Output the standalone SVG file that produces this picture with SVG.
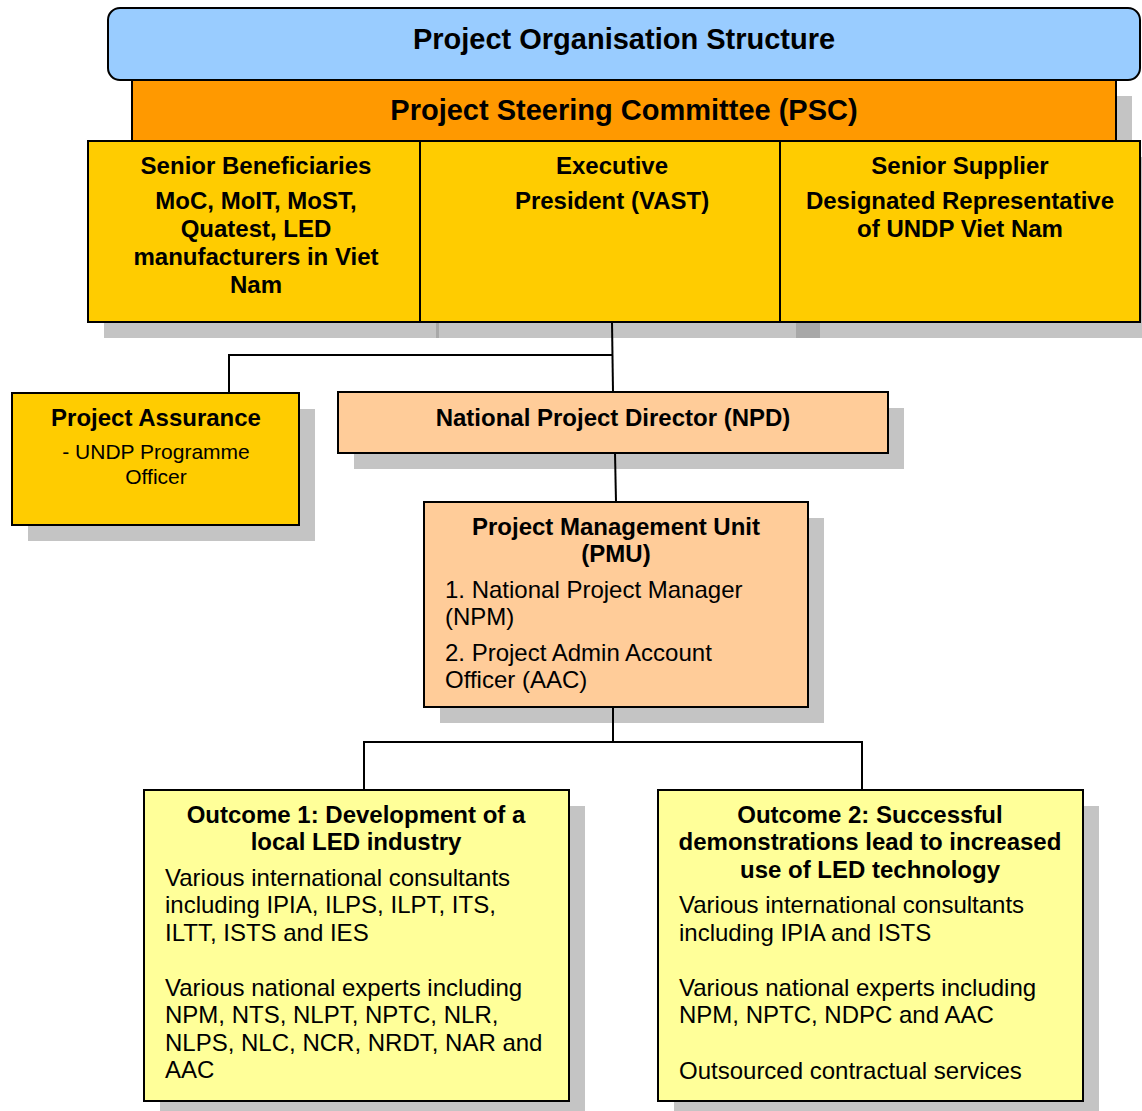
<svg xmlns="http://www.w3.org/2000/svg" width="1142" height="1111" viewBox="0 0 1142 1111">
<style>
.sh{fill:#C4C4C4}
.bx{stroke:#000;stroke-width:2}
.t{font-family:"Liberation Sans",Arial,sans-serif;fill:#000}
.b{font-weight:bold;font-size:24px}
.c{text-anchor:middle}
.r{font-size:24px}
.conn{stroke:#000;stroke-width:2;fill:none}
</style>
<rect width="1142" height="1111" fill="#fff"/>
<!-- shadows -->
<g id="shadows">
<rect class="sh" x="148" y="96" width="984" height="61"/>
<rect class="sh" x="104" y="157" width="1038" height="181"/>
<rect x="436" y="322" width="3" height="16" fill="#A8A8A8"/>
<rect x="796" y="322" width="24" height="16" fill="#A8A8A8"/>
<rect class="sh" x="28" y="409" width="287" height="132"/>
<rect class="sh" x="354" y="408" width="550" height="61"/>
<rect class="sh" x="440" y="518" width="384" height="205"/>
<rect class="sh" x="160" y="806" width="425" height="305"/>
<rect class="sh" x="674" y="806" width="425" height="305"/>
</g>
<g id="connectors">
<path class="conn" d="M612 322 L613 392"/>
<path class="conn" d="M612 355 H229 V393"/>
<path class="conn" d="M615 453 L616 502"/>
<path class="conn" d="M613 707 V742"/>
<path class="conn" d="M364 790 V742 H862 V790"/>
</g>
<g id="title">
<rect class="bx" x="108" y="8" width="1032" height="72" rx="12" fill="#99CCFF"/>
<text class="t c" x="624" y="49" font-weight="bold" font-size="29">Project Organisation Structure</text>
</g>
<g id="psc">
<rect class="bx" x="132" y="80" width="984" height="61" fill="#FF9900"/>
<text class="t c" x="624" y="120" font-weight="bold" font-size="29">Project Steering Committee (PSC)</text>
</g>
<g id="senior-beneficiaries">
<rect class="bx" x="88" y="141" width="332" height="181" fill="#FFCC00"/>
<text class="t b c" x="256" y="174">Senior Beneficiaries</text>
<text class="t b c" x="256" y="209">MoC, MoIT, MoST,</text>
<text class="t b c" x="256" y="237">Quatest, LED</text>
<text class="t b c" x="256" y="265">manufacturers in Viet</text>
<text class="t b c" x="256" y="293">Nam</text>
</g>
<g id="executive">
<rect class="bx" x="420" y="141" width="360" height="181" fill="#FFCC00"/>
<text class="t b c" x="612" y="174">Executive</text>
<text class="t b c" x="612" y="209">President (VAST)</text>
</g>
<g id="senior-supplier">
<rect class="bx" x="780" y="141" width="360" height="181" fill="#FFCC00"/>
<text class="t b c" x="960" y="174">Senior Supplier</text>
<text class="t b c" x="960" y="209">Designated Representative</text>
<text class="t b c" x="960" y="237">of UNDP Viet Nam</text>
</g>
<g id="project-assurance">
<rect class="bx" x="12" y="393" width="287" height="132" fill="#FFCC00"/>
<text class="t b c" x="156" y="426">Project Assurance</text>
<text class="t c" x="156" y="459" font-size="21">- UNDP Programme</text>
<text class="t c" x="156" y="484" font-size="21">Officer</text>
</g>
<g id="npd">
<rect class="bx" x="338" y="392" width="550" height="61" fill="#FFCC99"/>
<text class="t b c" x="613" y="426">National Project Director (NPD)</text>
</g>
<g id="pmu">
<rect class="bx" x="424" y="502" width="384" height="205" fill="#FFCC99"/>
<text class="t b c" x="616" y="535">Project Management Unit</text>
<text class="t b c" x="616" y="562">(PMU)</text>
<text class="t r" x="445" y="598">1. National Project Manager</text>
<text class="t r" x="445" y="625">(NPM)</text>
<text class="t r" x="445" y="661">2. Project Admin Account</text>
<text class="t r" x="445" y="688">Officer (AAC)</text>
</g>
<g id="outcome1">
<rect class="bx" x="144" y="790" width="425" height="311" fill="#FFFF99"/>
<text class="t b c" x="356" y="823">Outcome 1: Development of a</text>
<text class="t b c" x="356" y="850">local LED industry</text>
<text class="t r" x="165" y="886">Various international consultants</text>
<text class="t r" x="165" y="913">including IPIA, ILPS, ILPT, ITS,</text>
<text class="t r" x="165" y="941">ILTT, ISTS and IES</text>
<text class="t r" x="165" y="996">Various national experts including</text>
<text class="t r" x="165" y="1023">NPM, NTS, NLPT, NPTC, NLR,</text>
<text class="t r" x="165" y="1051">NLPS, NLC, NCR, NRDT, NAR and</text>
<text class="t r" x="165" y="1078">AAC</text>
</g>
<g id="outcome2">
<rect class="bx" x="658" y="790" width="425" height="311" fill="#FFFF99"/>
<text class="t b c" x="870" y="823">Outcome 2: Successful</text>
<text class="t b c" x="870" y="850">demonstrations lead to increased</text>
<text class="t b c" x="870" y="878">use of LED technology</text>
<text class="t r" x="679" y="913">Various international consultants</text>
<text class="t r" x="679" y="941">including IPIA and ISTS</text>
<text class="t r" x="679" y="996">Various national experts including</text>
<text class="t r" x="679" y="1023">NPM, NPTC, NDPC and AAC</text>
<text class="t r" x="679" y="1079">Outsourced contractual services</text>
</g>
</svg>
